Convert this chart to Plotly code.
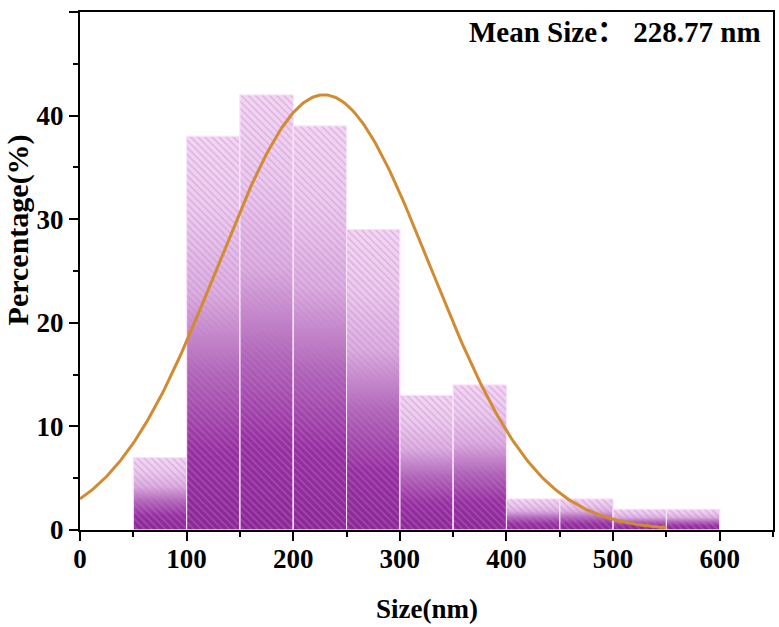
import numpy as np
import plotly.graph_objects as go

# Histogram data
bin_left = [50, 100, 150, 200, 250, 300, 350, 400, 450, 500, 550]
bin_width = 50
percent = [7, 38, 42, 39, 29, 13, 14, 3, 3, 2, 2]

# Gaussian fit parameters
fit_mean = 228.77
fit_sigma = 99.6
fit_amp = 42.0
fit_x_start, fit_x_end = 0, 550

x_ticks = [0, 100, 200, 300, 400, 500, 600]
y_ticks = [0, 10, 20, 30, 40, 50]

FONT = "Liberation Serif, Noto Sans CJK SC"
grad_scale = [[0.0, "#8a2895"], [0.2, "#962fa0"], [0.4, "#b066b8"],
              [0.6, "#dbaedf"], [0.8, "#ebcbed"], [1.0, "#f2d6f2"]]

fig = go.Figure()

for xl, h in zip(bin_left, percent):
    xr = xl + bin_width
    fig.add_trace(go.Scatter(
        x=[xl, xr, xr, xl, xl], y=[0, 0, h, h, 0],
        mode="lines", fill="toself",
        line=dict(color="rgba(250,225,250,0.9)", width=1),
        fillgradient=dict(type="vertical", colorscale=grad_scale, start=0, stop=h),
        showlegend=False, hoverinfo="skip"))
    # hatch overlay
    fig.add_trace(go.Scatter(
        x=[xl, xr, xr, xl, xl], y=[0, 0, h, h, 0],
        mode="lines", fill="toself", fillcolor="rgba(0,0,0,0)",
        line=dict(color="rgba(250,228,250,0.95)", width=1),
        fillpattern=dict(shape="\\", fgcolor="rgba(195,125,205,0.4)",
                         bgcolor="rgba(0,0,0,0)", size=5, solidity=0.3,
                         fillmode="replace"),
        showlegend=False, hoverinfo="skip"))

xs = np.linspace(fit_x_start, fit_x_end, 300)
ys = fit_amp * np.exp(-(xs - fit_mean) ** 2 / (2 * fit_sigma ** 2))
fig.add_trace(go.Scatter(x=xs, y=ys, mode="lines",
                         line=dict(color="#d18c32", width=3),
                         showlegend=False, hoverinfo="skip"))

tfont = dict(family=FONT, size=27, color="black", weight="bold")
axis_common = dict(showline=True, linecolor="black", linewidth=2, mirror=True,
                   ticks="outside", tickcolor="black", tickwidth=2, ticklen=9,
                   showgrid=False, zeroline=False, tickfont=tfont)

fig.update_xaxes(range=[0, 650], tickvals=x_ticks, ticklabelstandoff=-5,
                 minor=dict(ticks="outside", dtick=50, tick0=0, ticklen=5,
                            tickwidth=2, tickcolor="black"),
                 **axis_common)
fig.update_yaxes(range=[0, 50], tickvals=y_ticks, ticklabelstandoff=0,
                 minor=dict(ticks="outside", dtick=5, tick0=0, ticklen=5,
                            tickwidth=2, tickcolor="black"),
                 **axis_common)

fig.add_annotation(text="Size(nm)", xref="paper", yref="paper",
                   x=0.5, y=-0.1525, xanchor="center", yanchor="middle", showarrow=False,
                   font=dict(family=FONT, size=27, color="black", weight="bold"))
fig.add_annotation(text="Percentage(%)", xref="paper", yref="paper", textangle=-90,
                   x=-0.089, y=0.579, xanchor="center", yanchor="middle", showarrow=False,
                   font=dict(family=FONT, size=30, color="black", weight="bold"))
fig.add_annotation(text="Mean Size： 228.77 nm", xref="paper", yref="paper",
                   x=0.9856, y=0.961, xanchor="right", yanchor="middle", showarrow=False,
                   font=dict(family=FONT, size=29, color="black", weight="bold"))

fig.update_layout(width=779, height=627, margin=dict(l=80, r=4, t=12, b=97),
                  plot_bgcolor="white", paper_bgcolor="white")

fig.write_html("out.html")
